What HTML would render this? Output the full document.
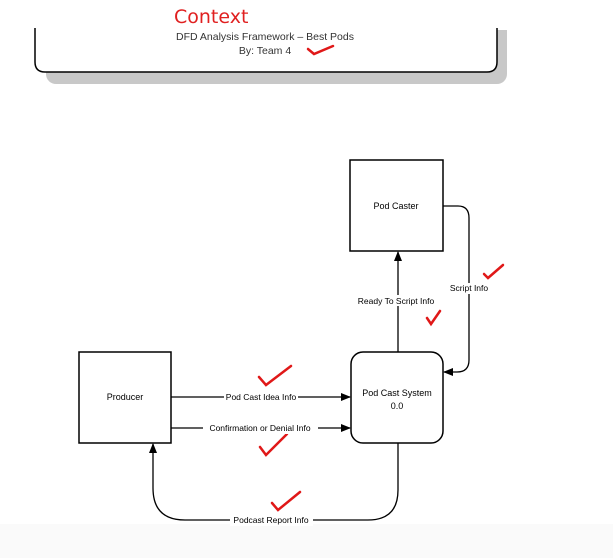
<!DOCTYPE html>
<html><head><style>
html,body{margin:0;padding:0;background:#fff;}
svg{display:block;font-family:"Liberation Sans",sans-serif;}
</style></head><body>
<svg width="613" height="558" viewBox="0 0 613 558">
<rect x="0" y="524" width="613" height="34" fill="#fafafa"/>
<defs><marker id="a" markerWidth="10" markerHeight="8" refX="9" refY="4" orient="auto" markerUnits="userSpaceOnUse"><path d="M0,0 L10,4 L0,8z" fill="#000"/></marker></defs>
<!-- header -->
<rect x="46" y="20" width="461" height="64" rx="10" fill="#c8c8c8"/>
<rect x="30" y="0" width="490" height="30" fill="#fff"/>
<path d="M35,28 V62 Q35,72 45,72 H487 Q497,72 497,62 V28" fill="#fff" stroke="#000" stroke-width="1.5"/>
<text x="265" y="40" font-size="10.5" text-anchor="middle" fill="#333">DFD Analysis Framework – Best Pods</text>
<text x="265" y="54" font-size="10.5" text-anchor="middle" fill="#333">By: Team 4</text>
<text x="174" y="23" font-size="19" fill="#e02020" font-family="'DejaVu Sans',sans-serif">Context</text>
<g fill="none" stroke="#e01818" stroke-width="2.5" stroke-linecap="round">
<path d="M308,49 L314,54 L333,46"/>
<path d="M259,377 L266,385 L291,366"/>
<path d="M260,447 L266,455 L287,434"/>
<path d="M400,418 L406,425 L425,406"/>
<path d="M427,318 L431,324 L440,311"/>
<path d="M484,274 L488,278 L503,265"/>
<path d="M272,503 L278,510 L300,492"/>
</g>
<!-- nodes -->
<rect x="350" y="160" width="93" height="91" fill="#fff" stroke="#000" stroke-width="1.5"/>
<text x="396" y="209" font-size="9" text-anchor="middle">Pod Caster</text>
<rect x="79" y="352" width="92" height="91" fill="#fff" stroke="#000" stroke-width="1.5"/>
<text x="125" y="400" font-size="9" text-anchor="middle">Producer</text>
<rect x="351" y="352" width="92" height="91" rx="12" fill="#fff" stroke="#000" stroke-width="1.5"/>
<text x="397" y="396" font-size="9" text-anchor="middle">Pod Cast System</text>
<text x="397" y="409" font-size="9" text-anchor="middle">0.0</text>
<!-- connectors -->
<g fill="none" stroke="#000" stroke-width="1.3">
<line x1="398" y1="352" x2="398" y2="252" marker-end="url(#a)"/>
<path d="M443,206 H458 Q469,206 469,218 V360 Q469,372 457,372 H444" marker-end="url(#a)"/>
<line x1="171" y1="397" x2="350" y2="397" marker-end="url(#a)"/>
<line x1="171" y1="428" x2="350" y2="428" marker-end="url(#a)"/>
<path d="M398,443 V490 Q398,520 368,520 H185 Q153,520 153,488 V444" marker-end="url(#a)"/>
</g>
<g font-size="8.5" text-anchor="middle">
<rect x="353" y="295" width="86" height="11" fill="#fff"/><text x="396" y="304">Ready To Script Info</text>
<rect x="446" y="283" width="46" height="11" fill="#fff"/><text x="469" y="291">Script Info</text>
<rect x="224" y="392" width="74" height="11" fill="#fff"/><text x="261" y="400">Pod Cast Idea Info</text>
<rect x="203" y="423" width="115" height="11" fill="#fff"/><text x="260" y="431">Confirmation or Denial Info</text>
<rect x="230" y="515" width="83" height="11" fill="#fff"/><text x="271" y="523">Podcast Report Info</text>
</g>
</svg>
</body></html>
